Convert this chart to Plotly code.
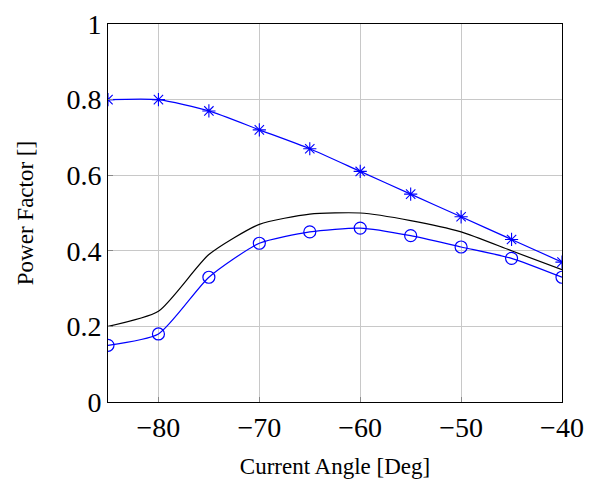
import plotly.graph_objects as go

angle = [-85, -80, -75, -70, -65, -60, -55, -50, -45, -40]
pf_star = [0.80, 0.80, 0.77, 0.72, 0.67, 0.61, 0.55, 0.49, 0.43, 0.37]
pf_black = [0.20, 0.24, 0.39, 0.47, 0.497, 0.50, 0.48, 0.45, 0.40, 0.35]
pf_circle = [0.15, 0.18, 0.33, 0.42, 0.45, 0.46, 0.44, 0.41, 0.38, 0.33]

xticks = [-80, -70, -60, -50, -40]
xtick_text = ["\u221280", "\u221270", "\u221260", "\u221250", "\u221240"]
yticks = [0, 0.2, 0.4, 0.6, 0.8, 1]
ytick_text = ["0", "0.2", "0.4", "0.6", "0.8", "1"]

fig = go.Figure()
fig.add_trace(go.Scatter(x=angle, y=pf_star, mode="lines+markers",
                         line=dict(color="blue", width=1.2, shape="spline", smoothing=0.6),
                         marker=dict(symbol="asterisk-open", size=11, color="blue",
                                     line=dict(color="blue", width=1.1))))
fig.add_trace(go.Scatter(x=angle, y=pf_black, mode="lines",
                         line=dict(color="black", width=1.2, shape="spline", smoothing=0.6)))
fig.add_trace(go.Scatter(x=angle, y=pf_circle, mode="lines+markers",
                         line=dict(color="blue", width=1.2, shape="spline", smoothing=0.6),
                         marker=dict(symbol="circle-open", size=12, color="blue",
                                     line=dict(color="blue", width=1.2))))

font_family = "Liberation Serif, DejaVu Serif, serif"
fig.update_layout(
    width=593, height=483,
    margin=dict(l=108, r=31, t=24, b=81),
    paper_bgcolor="white", plot_bgcolor="white",
    showlegend=False,
    font=dict(family=font_family, color="black"),
)
fig.update_xaxes(range=[-85, -40], tickvals=xticks, ticktext=xtick_text,
                 tickfont=dict(size=28, family=font_family),
                 automargin=False,
                 showgrid=True, gridcolor="#c8c8c8", gridwidth=1,
                 showline=True, linecolor="black", linewidth=1, mirror=True,
                 ticks="inside", ticklen=5, tickcolor="#888888",
                 zeroline=False,
                 title=dict(text="Current Angle [Deg]", font=dict(size=23, family=font_family), standoff=16))
fig.update_yaxes(range=[0, 1], tickvals=yticks, ticktext=ytick_text,
                 tickfont=dict(size=28, family=font_family),
                 automargin=False,
                 showgrid=True, gridcolor="#c8c8c8", gridwidth=1,
                 showline=True, linecolor="black", linewidth=1, mirror=True,
                 ticks="inside", ticklen=5, tickcolor="#888888",
                 zeroline=False,
                 title=dict(text="Power Factor []", font=dict(size=23, family=font_family), standoff=26))

fig.write_html("out.html")
